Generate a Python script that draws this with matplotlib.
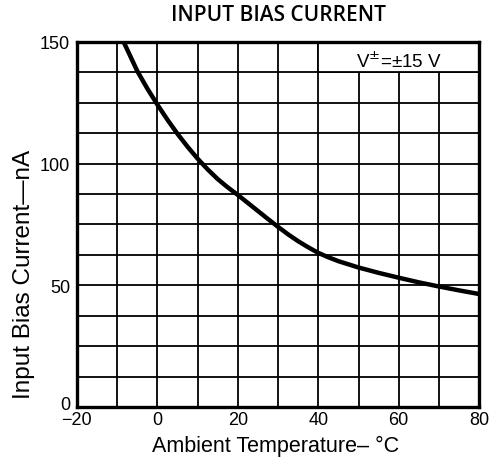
import matplotlib
matplotlib.use('Agg')
import matplotlib.pyplot as plt
from matplotlib.patches import Rectangle
import matplotlib.transforms as mtransforms
import numpy as np

# Input bias current vs. ambient temperature
temp_c = [-8.4, -5, -2.5, 0, 2.5, 5, 7.5, 10, 12.5, 15, 17.5, 20, 22.5, 25,
          27.5, 30, 32.5, 35, 37.5, 40, 42.5, 45, 50, 55, 60, 65, 70, 75, 80]
bias_na = [150, 138, 130.8, 124.2, 118, 112.2, 106.9, 102, 97.6, 93.6, 90.2,
           87.1, 83.8, 80.5, 77.2, 74, 70.9, 68.1, 65.6, 63.3, 61.5, 59.9,
           57.3, 55.1, 53.1, 51.2, 49.5, 47.9, 46.4]

x_ticks = [-20, 0, 20, 40, 60, 80]
x_tick_labels = ['\u221220', '0', '20', '40', '60', '80']
y_ticks = [0, 50, 100, 150]
x_grid = np.arange(-20, 81, 10)
y_grid = np.arange(0, 151, 12.5)

plt.rcParams['font.family'] = ['Liberation Sans', 'DejaVu Sans']

fig = plt.figure(figsize=(4.93, 4.60), dpi=100)
ax = fig.add_axes([0.156, 0.113, 0.816, 0.794])

ax.set_xlim(-20, 80)
ax.set_ylim(0, 150)

for gx in x_grid:
    ax.axvline(gx, color='black', lw=1.3, zorder=1)
for gy in y_grid:
    ax.axhline(gy, color='black', lw=1.3, zorder=1)

# label box in the top-right cells
ax.add_patch(Rectangle((40, 137.5), 40, 12.5, facecolor='white',
                       edgecolor='black', lw=1.3, zorder=2))
ax.text(60, 142.0, 'V$^{\\pm}$=\u00b115 V', ha='center', va='center',
        fontsize=13.5, zorder=3)

ax.plot(temp_c, bias_na, color='black', lw=3.2, zorder=4,
        solid_joinstyle='round', solid_capstyle='butt')

ax.set_xticks(x_ticks)
ax.set_yticks(y_ticks)
ax.set_xticklabels(x_tick_labels)
ax.tick_params(length=0, labelsize=13)
ax.tick_params(axis='x', pad=3)
ax.tick_params(axis='y', pad=5)
# lift the "0" label a little so it clears "-20"
zero_lbl = ax.get_yticklabels()[0]
zero_lbl.set_transform(zero_lbl.get_transform() +
                       mtransforms.ScaledTranslation(0, 5 / 100, fig.dpi_scale_trans))
for s in ax.spines.values():
    s.set_linewidth(2.4)
    s.set_zorder(5)

ax.set_xlabel('Ambient Temperature\u2013 \u00b0C', fontsize=15.5)
ax.xaxis.set_label_coords(0.495, -0.075)
ax.set_ylabel('Input Bias Current\u2014nA', fontsize=17.5)
ax.yaxis.set_label_coords(-0.105, 0.367)

fig.text(0.564, 0.967, 'INPUT BIAS CURRENT', ha='center', va='center',
         fontsize=15, fontweight='semibold', family=['Open Sans', 'DejaVu Sans'])

fig.savefig('out.png', dpi=100)
